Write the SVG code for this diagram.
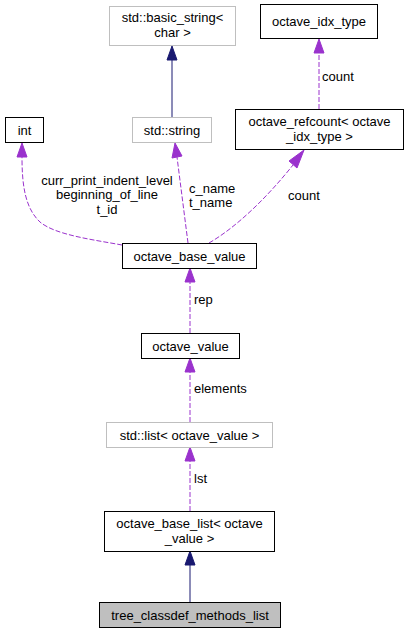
<svg xmlns="http://www.w3.org/2000/svg" width="408" height="633" viewBox="0 0 408 633">
<style>
text{font-family:"Liberation Sans",Arial,sans-serif;font-size:13px;fill:#000}
.n{text-anchor:middle}
.b{fill:#fff;stroke:#000;stroke-width:1}
.g{fill:#fff;stroke:#bfbfbf;stroke-width:1}
.e{fill:none;stroke:#9a32cd;stroke-width:1;stroke-dasharray:5,2}
.i{fill:none;stroke:#191970;stroke-width:1}
.ah{fill:#9a32cd;stroke:#9a32cd}
.ih{fill:#191970;stroke:#191970}
</style>
<rect width="408" height="633" fill="#fff"/>
<g id="connectors">
<path class="i" d="M172,117 V60"/>
<polygon class="ih" points="167,60 172,46 177,60"/>
<path class="e" d="M319,109 V52"/>
<polygon class="ah" points="314,53 319,39 324,53"/>
<text x="322" y="81">count</text>
<path class="e" d="M122,245 C95,240 55,235 40,222 C25,208 22,185 22,157"/>
<polygon class="ah" points="17,157 22,143 27,157"/>
<text class="n" x="107" y="185">curr_print_indent_level</text>
<text class="n" x="107" y="199">beginning_of_line</text>
<text class="n" x="107" y="214">t_id</text>
<path class="e" d="M188,243 L177,157"/>
<polygon class="ah" points="172,158 175,143 182,156"/>
<text x="189" y="193">c_name</text>
<text x="189" y="207">t_name</text>
<path class="e" d="M209,243 C235,228 265,200 293,165"/>
<polygon class="ah" points="289,161 304,150 297,168"/>
<text x="288" y="200">count</text>
<path class="e" d="M190,333 V282"/>
<polygon class="ah" points="185,282 190,268 195,282"/>
<text x="194" y="304">rep</text>
<path class="e" d="M190,422 V372"/>
<polygon class="ah" points="185,372 190,358 195,372"/>
<text x="194" y="393">elements</text>
<path class="e" d="M190,511 V461"/>
<polygon class="ah" points="185,461 190,447 195,461"/>
<text x="194" y="483">lst</text>
<path class="i" d="M190,602 V565"/>
<polygon class="ih" points="185,565 190,551 195,565"/>
</g>
<g id="basic_string">
<rect class="g" x="109.5" y="6.5" width="126" height="39"/>
<text class="n" x="172.5" y="22">std::basic_string&lt;</text>
<text class="n" x="172.5" y="37">char &gt;</text>
</g>
<g id="octave_idx_type">
<rect class="b" x="260.5" y="4.5" width="117" height="34"/>
<text class="n" x="319" y="26">octave_idx_type</text>
</g>
<g id="int">
<rect class="b" x="5.5" y="117.5" width="38" height="25"/>
<text class="n" x="24.5" y="134.5">int</text>
</g>
<g id="std_string">
<rect class="g" x="132.5" y="117.5" width="79" height="25"/>
<text class="n" x="172" y="134.5">std::string</text>
</g>
<g id="octave_refcount">
<rect class="b" x="235.5" y="109.5" width="168" height="40"/>
<text class="n" x="319.5" y="126">octave_refcount&lt; octave</text>
<text class="n" x="319.5" y="141">_idx_type &gt;</text>
</g>
<g id="octave_base_value">
<rect class="b" x="122.5" y="243.5" width="134" height="25"/>
<text class="n" x="189.5" y="260.5">octave_base_value</text>
</g>
<g id="octave_value">
<rect class="b" x="141.5" y="333.5" width="98" height="25"/>
<text class="n" x="190.5" y="350.5">octave_value</text>
</g>
<g id="std_list">
<rect class="g" x="106.5" y="422.5" width="166" height="25"/>
<text class="n" x="189.5" y="439.5">std::list&lt; octave_value &gt;</text>
</g>
<g id="octave_base_list">
<rect class="b" x="104.5" y="511.5" width="170" height="40"/>
<text class="n" x="189.5" y="528">octave_base_list&lt; octave</text>
<text class="n" x="189.5" y="543">_value &gt;</text>
</g>
<g id="tree_classdef_methods_list">
<rect x="99.5" y="602.5" width="181" height="25" fill="#bfbfbf" stroke="#000"/>
<text class="n" x="190" y="619.5">tree_classdef_methods_list</text>
</g>
</svg>
